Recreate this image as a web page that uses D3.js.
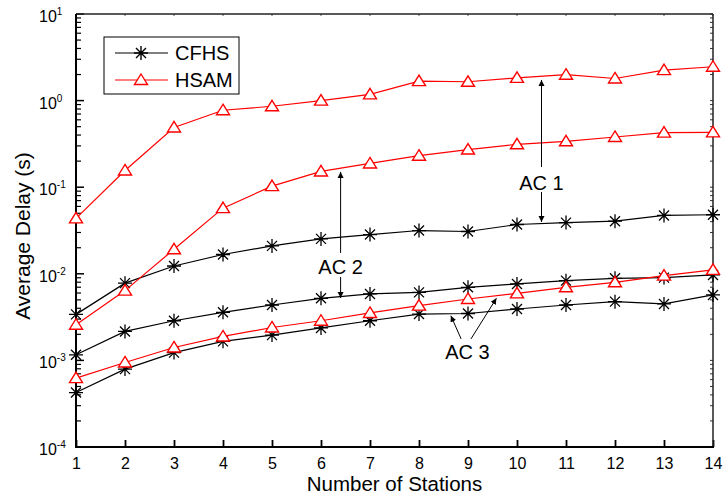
<!DOCTYPE html>
<html>
<head>
<meta charset="utf-8">
<script src="https://cdn.jsdelivr.net/npm/d3@7"></script>
<style>
  body { margin: 0; background: #fff; }
  text { font-family: "Liberation Sans", Arial, sans-serif; fill: #000; }
</style>
</head>
<body>
<div id="chart"></div>
<script>
//Data
var stations = [1, 2, 3, 4, 5, 6, 7, 8, 9, 10, 11, 12, 13, 14];
var cfhsAC1 = [0.0034, 0.0078, 0.0123, 0.0167, 0.021, 0.0253, 0.0284, 0.0316, 0.0308, 0.0371, 0.039, 0.0405, 0.0472, 0.0481];
var cfhsAC2 = [0.00116, 0.00216, 0.00287, 0.00359, 0.00436, 0.00521, 0.00585, 0.0061, 0.00698, 0.00764, 0.00834, 0.00887, 0.00904, 0.0097];
var cfhsAC3 = [0.000425, 0.000793, 0.00123, 0.00166, 0.00196, 0.00237, 0.00287, 0.00343, 0.00348, 0.00392, 0.00436, 0.00477, 0.00449, 0.0057];
var hsamAC1 = [0.0436, 0.156, 0.49, 0.774, 0.86, 1.0, 1.18, 1.68, 1.65, 1.83, 1.99, 1.80, 2.25, 2.46];
var hsamAC2 = [0.00258, 0.0064, 0.0192, 0.0573, 0.103, 0.152, 0.188, 0.231, 0.272, 0.313, 0.339, 0.38, 0.427, 0.43];
var hsamAC3 = [0.000624, 0.000946, 0.00141, 0.00189, 0.0024, 0.00287, 0.00353, 0.00429, 0.00512, 0.00595, 0.00698, 0.00798, 0.00953, 0.0111];
var yExponents = [1, 0, -1, -2, -3, -4];
var legendNames = ["CFHS", "HSAM"];

//Annotations (data coordinates)
var labels = [
  {text: "AC 1", x: 10.5, y: 0.112},
  {text: "AC 2", x: 6.4, y: 0.012},
  {text: "AC 3", x: 8.99, y: 0.00125}
];
var arrows = [
  {x1: 10.5, y1: 0.171, x2: 10.5, y2: 1.73},
  {x1: 10.5, y1: 0.088, x2: 10.5, y2: 0.0396},
  {x1: 6.4, y1: 0.0174, x2: 6.4, y2: 0.15},
  {x1: 6.4, y1: 0.00918, x2: 6.4, y2: 0.00526},
  {x1: 8.86, y1: 0.00177, x2: 8.65, y2: 0.00328},
  {x1: 9.06, y1: 0.00177, x2: 9.58, y2: 0.00521}
];

//Sizes
var W = 723, H = 499;
var plotLeft = 76, plotRight = 713, plotTop = 14, plotBottom = 447;
var colorRed = "#ff0000";
var colorBlack = "#000";

var svg = d3.select("#chart").append("svg")
  .attr("width", W)
  .attr("height", H);

var x = d3.scaleLinear().domain([1, 14]).range([plotLeft, plotRight]);
var y = d3.scaleLog().domain([1e-4, 10]).range([plotBottom, plotTop]);

svg.append("defs").append("marker")
  .attr("id", "head")
  .attr("viewBox", "0 0 10 10")
  .attr("refX", 10).attr("refY", 5)
  .attr("markerWidth", 6).attr("markerHeight", 8)
  .attr("markerUnits", "userSpaceOnUse")
  .attr("orient", "auto")
  .append("path")
  .attr("d", "M0,0 L10,5 L0,10 Z")
  .attr("fill", "#000");

//Minor ticks on log axis
var minorTicks = [];
for (var e = -4; e < 1; e++) {
  for (var m = 2; m <= 9; m++) minorTicks.push(m * Math.pow(10, e));
}

//Left axis ticks (inward)
svg.selectAll(".ymajor").data(yExponents).enter().append("line")
  .attr("x1", plotLeft).attr("x2", plotLeft + 8)
  .attr("y1", function(d) { return y(Math.pow(10, d)); })
  .attr("y2", function(d) { return y(Math.pow(10, d)); })
  .attr("stroke", "#000").attr("stroke-width", 1.5);
svg.selectAll(".yminor").data(minorTicks).enter().append("line")
  .attr("x1", plotLeft).attr("x2", plotLeft + 5)
  .attr("y1", function(d) { return y(d); })
  .attr("y2", function(d) { return y(d); })
  .attr("stroke", "#000").attr("stroke-width", 1.2);
//Right axis ticks
svg.selectAll(".yminorR").data(minorTicks.concat(yExponents.map(function(d) { return Math.pow(10, d); }))).enter().append("line")
  .attr("x1", plotRight).attr("x2", plotRight - 3)
  .attr("y1", function(d) { return y(d); })
  .attr("y2", function(d) { return y(d); })
  .attr("stroke", "#333").attr("stroke-width", 1);

//Bottom axis
var xAxis = d3.axisBottom(x).tickValues(stations).tickSize(-7).tickPadding(13).tickFormat(d3.format("d"));
var gx = svg.append("g").attr("transform", "translate(0," + plotBottom + ")").call(xAxis)
  .attr("font-size", 16).attr("font-family", "Liberation Sans, Arial, sans-serif");
gx.select(".domain").remove();
gx.selectAll(".tick line").attr("stroke", "#000").attr("stroke-width", 1.8);
gx.selectAll(".tick text").attr("dy", "0.55em");

//Top ticks
svg.selectAll(".xtop").data(stations).enter().append("line")
  .attr("x1", function(d) { return x(d); }).attr("x2", function(d) { return x(d); })
  .attr("y1", plotTop).attr("y2", plotTop + 2)
  .attr("stroke", "#555").attr("stroke-width", 1);

//Frame
svg.append("line").attr("x1", plotLeft).attr("x2", plotRight).attr("y1", plotTop).attr("y2", plotTop).attr("stroke", "#222").attr("stroke-width", 1.5);
svg.append("line").attr("x1", plotRight).attr("x2", plotRight).attr("y1", plotTop).attr("y2", plotBottom).attr("stroke", "#222").attr("stroke-width", 1.5);
svg.append("line").attr("x1", plotLeft).attr("x2", plotRight + 1).attr("y1", plotBottom).attr("y2", plotBottom).attr("stroke", "#000").attr("stroke-width", 2);
svg.append("line").attr("x1", plotLeft).attr("x2", plotLeft).attr("y1", plotTop).attr("y2", plotBottom + 1).attr("stroke", "#000").attr("stroke-width", 2);

//Y tick labels
var yl = svg.selectAll(".ylabel").data(yExponents).enter().append("text")
  .attr("x", 39)
  .attr("y", function(d) { return y(Math.pow(10, d)) + 8; })
  .attr("font-size", 16);
yl.append("tspan").text("10");
yl.append("tspan").attr("font-size", 10).attr("dy", -7).text(function(d) { return d; });

//Axis titles
svg.append("text").attr("x", (plotLeft + plotRight) / 2).attr("y", 491)
  .attr("text-anchor", "middle").attr("font-size", 20.5).text("Number of Stations");
svg.append("text").attr("transform", "translate(30," + 236 + ") rotate(-90)")
  .attr("text-anchor", "middle").attr("font-size", 21).text("Average Delay (s)");

//Series
var line = d3.line()
  .x(function(d) { return x(d[0]); })
  .y(function(d) { return y(d[1]); });

var starPath = "M-7,0L7,0M0,-7L0,7M-5,-5L5,5M-5,5L5,-5";
var triPath = "M0,-6L6.5,4.5L-6.5,4.5Z";

function drawSeries(values, color, kind) {
  var pts = stations.map(function(s, i) { return [s, values[i]]; });
  svg.append("path").datum(pts)
    .attr("d", line)
    .attr("fill", "none")
    .attr("stroke", color)
    .attr("stroke-width", 1.2);
  svg.selectAll(null).data(pts).enter().append("path")
    .attr("transform", function(d) { return "translate(" + x(d[0]) + "," + y(d[1]) + ")"; })
    .attr("d", kind == "star" ? starPath : triPath)
    .attr("fill", kind == "star" ? "none" : "#fff")
    .attr("stroke", color)
    .attr("stroke-width", kind == "star" ? 1.3 : 1.4);
}

[cfhsAC1, cfhsAC2, cfhsAC3].forEach(function(v) { drawSeries(v, colorBlack, "star"); });
[hsamAC1, hsamAC2, hsamAC3].forEach(function(v) { drawSeries(v, colorRed, "tri"); });

//Annotations
svg.selectAll(".arrow").data(arrows).enter().append("line")
  .attr("x1", function(d) { return x(d.x1); })
  .attr("y1", function(d) { return y(d.y1); })
  .attr("x2", function(d) { return x(d.x2); })
  .attr("y2", function(d) { return y(d.y2); })
  .attr("stroke", "#000").attr("stroke-width", 1)
  .attr("marker-end", "url(#head)");
svg.selectAll(".aclabel").data(labels).enter().append("text")
  .attr("x", function(d) { return x(d.x); })
  .attr("y", function(d) { return y(d.y) + 7; })
  .attr("text-anchor", "middle")
  .attr("font-size", 20)
  .text(function(d) { return d.text; });

//Legend
var legend = svg.append("g");
legend.append("rect")
  .attr("x", 104).attr("y", 37).attr("width", 135).attr("height", 57)
  .attr("fill", "#fff").attr("stroke", "#000").attr("stroke-width", 1);
legendNames.forEach(function(name, i) {
  var ly = 53 + i * 27;
  var color = i == 0 ? colorBlack : colorRed;
  legend.append("line").attr("x1", 115).attr("x2", 168).attr("y1", ly).attr("y2", ly)
    .attr("stroke", color).attr("stroke-width", 1.2);
  legend.append("path").attr("transform", "translate(141," + ly + ")")
    .attr("d", i == 0 ? starPath : triPath)
    .attr("fill", i == 0 ? "none" : "#fff")
    .attr("stroke", color).attr("stroke-width", 1.4);
  legend.append("text").attr("x", 175).attr("y", ly + 7).attr("font-size", 20).text(name);
});
</script>
</body>
</html>
